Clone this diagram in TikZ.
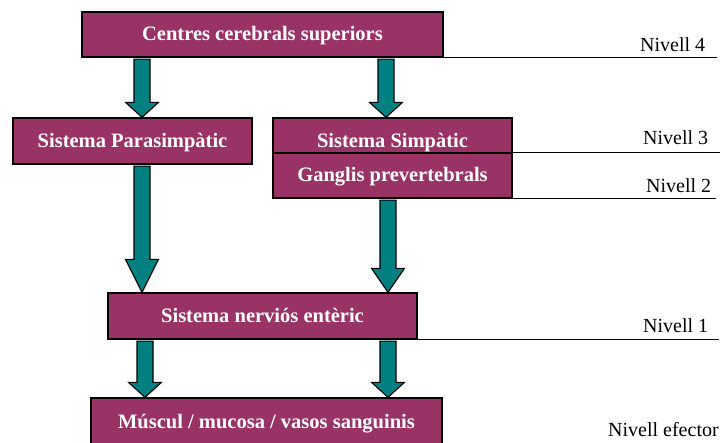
\documentclass[tikz,border=0pt]{standalone}
\usepackage{fontspec}
\setmainfont{Liberation Serif}
\usetikzlibrary{calc}
\definecolor{boxfill}{HTML}{993366}
\definecolor{arrowfill}{HTML}{008080}
\tikzset{
  box/.style={draw=black, line width=1.3pt, fill=boxfill, text=white,
    font=\fontsize{20.5}{24}\selectfont\bfseries, inner sep=0pt,
    text height=13pt, text depth=0pt},
  flow/.style={draw=black, line width=1.1pt, fill=arrowfill, line join=miter},
  levelline/.style={draw=black, line width=1pt},
  leveltext/.style={font=\fontsize{20}{24}\selectfont, anchor=base west, inner sep=0pt},
}
\newcommand\blockarrow[3]{%
  \filldraw[flow] ($(#1)+(-8,1.5)$) -- ($(#2)+(-8,-#3)$) -- ($(#2)+(-16.5,-#3)$) -- (#2)
    -- ($(#2)+(16.5,-#3)$) -- ($(#2)+(8,-#3)$) -- ($(#1)+(8,1.5)$) -- cycle;}
\begin{document}
\begin{tikzpicture}[x=1pt,y=-1pt]
\useasboundingbox (0,0) rectangle (723,443);
\clip (0,0) rectangle (723,443);
% boxes
\node[box, minimum width=361pt, minimum height=45pt] (top) at (262.5,34.5) {Centres cerebrals superiors};
\node[box, minimum width=239pt, minimum height=46pt] (para) at (132.5,141) {Sistema Parasimpàtic};
\node[box, minimum width=239pt, minimum height=46pt] (simp) at (392.5,141) {Sistema Simpàtic};
\node[box, minimum width=239pt, minimum height=45pt] (gang) at (392.5,175.5) {Ganglis prevertebrals};
\node[box, minimum width=309pt, minimum height=46pt] (enteric) at (262.5,316) {Sistema nerviós entèric};
\node[box, minimum width=351pt, minimum height=48pt] (bottom) at (266.5,422) {Múscul / mucosa / vasos sanguinis};
% arrow columns
\coordinate (xa) at (142,0);
\coordinate (xb) at (386,0);
\coordinate (xc) at (388,0);
\coordinate (xd) at (145,0);
\blockarrow{top.south -| xa}{para.north -| xa}{15}
\blockarrow{top.south -| xb}{simp.north -| xb}{15}
\blockarrow{para.south -| xa}{enteric.north -| xa}{33}
\blockarrow{gang.south -| xc}{enteric.north -| xc}{24}
\blockarrow{enteric.south -| xd}{bottom.north -| xd}{15}
\blockarrow{enteric.south -| xc}{bottom.north -| xc}{15}
% level lines
\coordinate (e4) at (717,0);
\coordinate (e3) at (720,0);
\coordinate (e2) at (716,0);
\coordinate (e1) at (719,0);
\draw[levelline] (top.south east) -- (top.south east -| e4);
\draw[levelline] (gang.north east) -- (gang.north east -| e3);
\draw[levelline] (gang.south east) -- (gang.south east -| e2);
\draw[levelline] (enteric.south east) -- (enteric.south east -| e1);
% level labels
\node[leveltext] (n4) at (640,52) {Nivell 4};
\node[leveltext] (n3) at (643,145) {Nivell 3};
\node[leveltext] (n2) at (646,193) {Nivell 2};
\node[leveltext] (n1) at (643,333) {Nivell 1};
\node[leveltext] (ne) at (608,437) {Nivell efector};
\end{tikzpicture}
\end{document}
